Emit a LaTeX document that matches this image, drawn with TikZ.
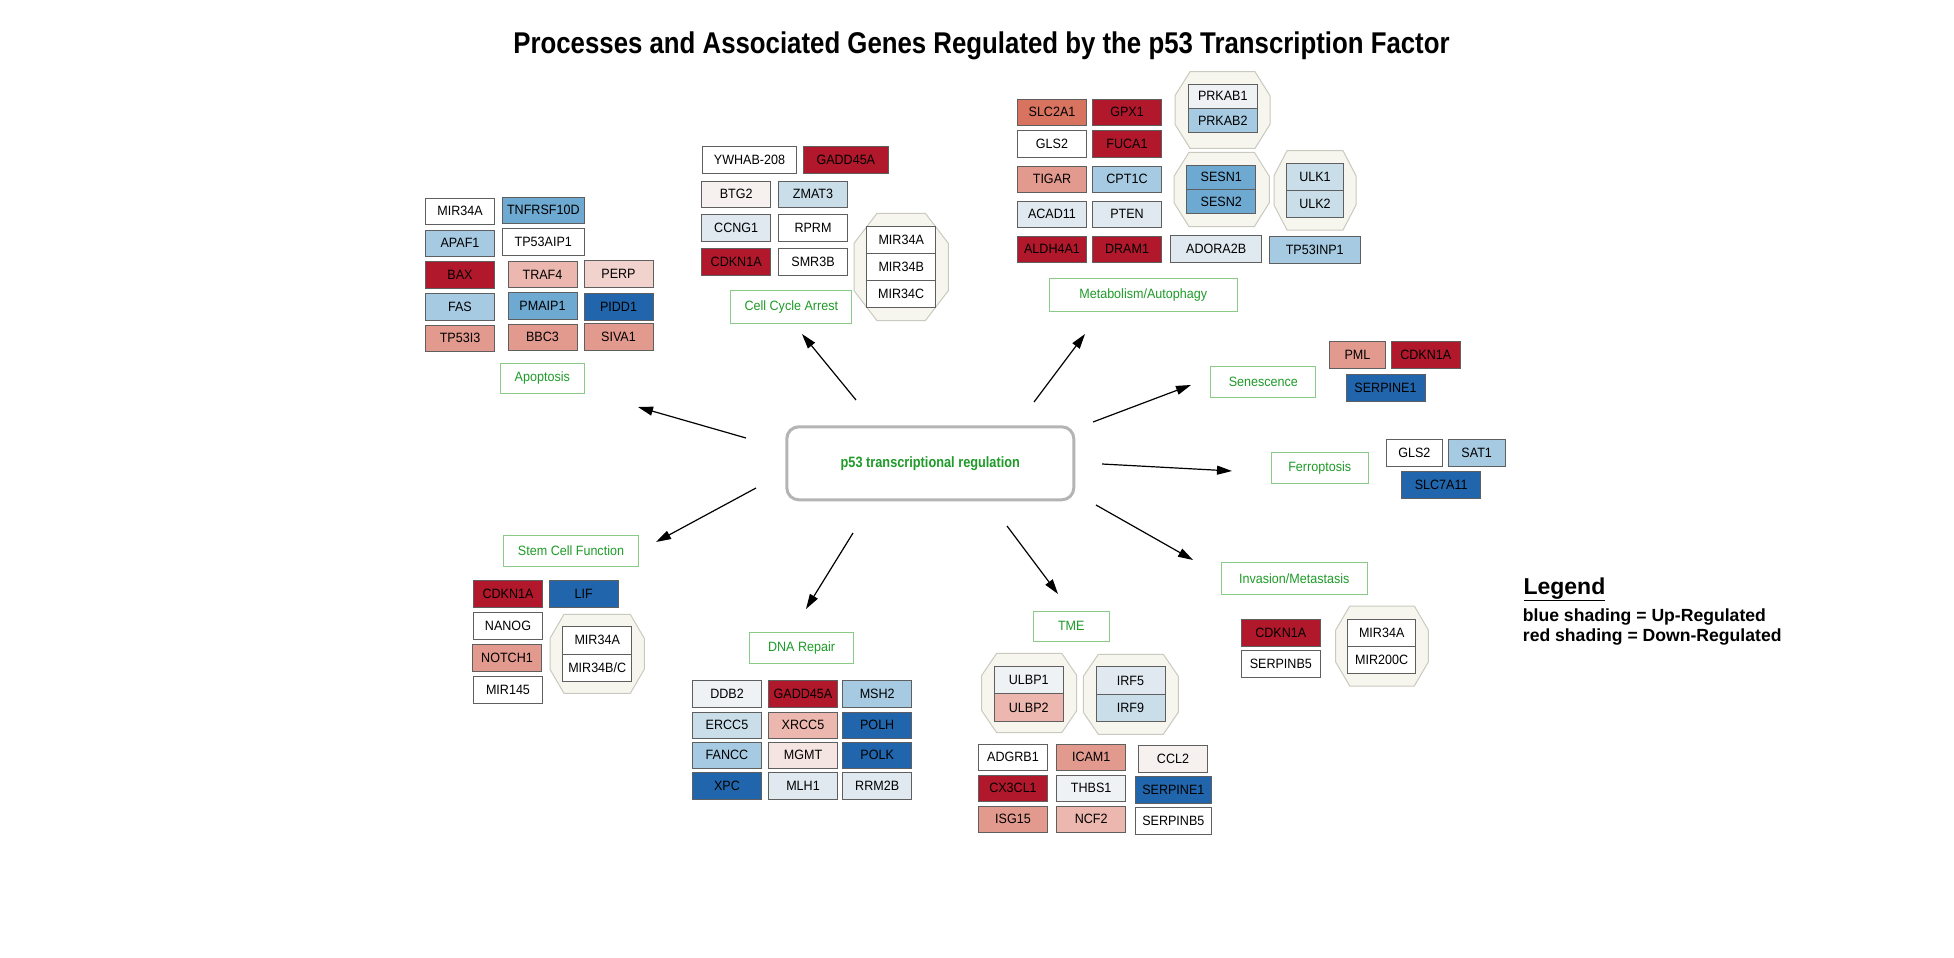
\documentclass[tikz,border=0pt]{standalone}
\usepackage{fontspec}
\setmainfont{Liberation Sans}
\newfontfamily\genefam{Liberation Sans}[FakeStretch=0.93]
\newfontfamily\narrowfam{Liberation Sans}[FakeStretch=0.85]
\newfontfamily\titlefam{Liberation Sans}[FakeStretch=0.86]
\usetikzlibrary{arrows.meta}
\newcommand{\mygenefont}{\genefam\fontsize{13.5pt}{16pt}\selectfont}
\definecolor{rA}{HTML}{B2182B}
\definecolor{rB}{HTML}{D8735F}
\definecolor{rC}{HTML}{E29A8E}
\definecolor{rD}{HTML}{EBB7AF}
\definecolor{rE}{HTML}{F1D2CD}
\definecolor{rF}{HTML}{F4E4E2}
\definecolor{rG}{HTML}{F6F0EF}
\definecolor{nW}{HTML}{FFFFFF}
\definecolor{bA}{HTML}{EEF2F4}
\definecolor{bB}{HTML}{E0E9F0}
\definecolor{bC}{HTML}{CADEEA}
\definecolor{bD}{HTML}{A6CAE2}
\definecolor{bE}{HTML}{6EA9D2}
\definecolor{bF}{HTML}{2166AC}
\definecolor{genebd}{HTML}{5F5F5F}
\definecolor{lblgreen}{HTML}{1E9B28}
\definecolor{lblbd}{HTML}{8ACB8A}
\definecolor{octfill}{HTML}{F6F6EE}
\definecolor{octbd}{HTML}{C9C9C0}
\definecolor{centbd}{HTML}{B4B4B4}
\tikzset{
 gene/.style={rectangle, draw=genebd, line width=0.9pt, minimum width=69pt, minimum height=26.7pt, inner sep=0pt, font=\mygenefont, text=black},
 proc/.style={rectangle, draw=lblbd, line width=1pt, fill=white, inner sep=0pt, font=\mygenefont, text=lblgreen},
 hub/.style={rectangle, rounded corners=12pt, draw=centbd, line width=3pt, fill=white, minimum width=287pt, minimum height=73pt, font={\narrowfam\bfseries\fontsize{15pt}{18pt}\selectfont}, text=lblgreen},
 octa/.style={draw=octbd, fill=octfill, line width=1pt},
 conn/.style={-{Triangle[length=15pt,width=9pt]}, line width=1.2pt, black},
 legline/.style={anchor=base west, inner sep=0pt, font={\bfseries\fontsize{17.6pt}{20pt}\selectfont}},
}
\newcommand{\octpath}[6]{\draw[octa] (#1+#5,#2) -- (#3-#5,#2) -- (#3,#2+#6) -- (#3,#4-#6) -- (#3-#5,#4) -- (#1+#5,#4) -- (#1,#4-#6) -- (#1,#2+#6) -- cycle;}
\begin{document}
\begin{tikzpicture}[x=1pt,y=-1pt]
\useasboundingbox[fill=white] (0,0) rectangle (1954,958);

% title
\node[anchor=base, font={\titlefam\bfseries\fontsize{30pt}{34pt}\selectfont}] (title) at (981.5,53) {Processes and Associated Genes Regulated by the p53 Transcription Factor};

% hub
\node[hub] (hub) at (930.3,463.3) {p53 transcriptional regulation};

% ---------- Apoptosis
\node[gene, fill=nW] (apMIR) at (460,211.3) {MIR34A};
\node[gene, fill=bE, minimum width=82pt] (apTNF) at (543.3,210.3) {TNFRSF10D};
\node[gene, fill=bD] (apAPAF) at (460,243.3) {APAF1};
\node[gene, fill=nW, minimum width=82pt] (apTPA) at (543.3,241.7) {TP53AIP1};
\node[gene, fill=rA] (apBAX) at (460,275) {BAX};
\node[gene, fill=rD] (apTRAF) at (542.5,274.5) {TRAF4};
\node[gene, fill=rE] (apPERP) at (618.5,273.7) {PERP};
\node[gene, fill=bD] (apFAS) at (460,306.7) {FAS};
\node[gene, fill=bE] (apPMA) at (542.5,306) {PMAIP1};
\node[gene, fill=bF] (apPIDD) at (618.5,306.7) {PIDD1};
\node[gene, fill=rC] (apTPI) at (460,338.3) {TP53I3};
\node[gene, fill=rC] (apBBC) at (542.5,337.3) {BBC3};
\node[gene, fill=rC] (apSIVA) at (618.5,336.7) {SIVA1};
\node[proc, minimum width=84pt, minimum height=30pt] (apop) at (542.3,378.3) {Apoptosis};

% ---------- Cell cycle arrest
\node[gene, fill=nW, minimum width=94.4pt] (ccY) at (749.5,160) {YWHAB-208};
\node[gene, fill=rA, minimum width=85pt] (ccG) at (845.8,160) {GADD45A};
\node[gene, fill=rG] (ccBTG) at (736.2,194.3) {BTG2};
\node[gene, fill=bC] (ccZ) at (813,194.3) {ZMAT3};
\node[gene, fill=bB] (ccCC) at (736.2,227.7) {CCNG1};
\node[gene, fill=nW] (ccR) at (813,227.7) {RPRM};
\node[gene, fill=rA] (ccCD) at (736.2,261.7) {CDKN1A};
\node[gene, fill=nW] (ccS) at (813,261.7) {SMR3B};
\octpath{854}{213.3}{948.3}{320.7}{23}{30}
\node[gene, fill=nW] (ccM1) at (901.2,240) {MIR34A};
\node[gene, fill=nW] (ccM2) at (901.2,267) {MIR34B};
\node[gene, fill=nW] (ccM3) at (901.2,294) {MIR34C};
\node[proc, minimum width=120.7pt, minimum height=33.3pt] (cca) at (791.3,307.3) {Cell Cycle Arrest};

% ---------- Metabolism / Autophagy
\node[gene, fill=rB] (mSLC) at (1052,112.3) {SLC2A1};
\node[gene, fill=rA] (mGPX) at (1127,112.3) {GPX1};
\node[gene, fill=nW] (mGLS) at (1052,144) {GLS2};
\node[gene, fill=rA] (mFUC) at (1127,144) {FUCA1};
\node[gene, fill=rC] (mTIG) at (1052,179.3) {TIGAR};
\node[gene, fill=bD] (mCPT) at (1127,179.3) {CPT1C};
\node[gene, fill=bB] (mACA) at (1052,214.3) {ACAD11};
\node[gene, fill=bB] (mPTE) at (1127,214.3) {PTEN};
\node[gene, fill=rA] (mALD) at (1052,249.3) {ALDH4A1};
\node[gene, fill=rA] (mDRA) at (1127,249.3) {DRAM1};
\octpath{1175}{71.7}{1270}{148.3}{15}{24}
\node[gene, fill=bA, minimum height=24pt] (mPR1) at (1222.8,96.3) {PRKAB1};
\node[gene, fill=bD, minimum height=24pt] (mPR2) at (1222.8,120.3) {PRKAB2};
\octpath{1174}{152.3}{1269.3}{226.7}{15}{24}
\node[gene, fill=bE, minimum height=24.3pt] (mSE1) at (1221.2,177.2) {SESN1};
\node[gene, fill=bE, minimum height=24.3pt] (mSE2) at (1221.2,201.4) {SESN2};
\octpath{1274}{150.7}{1356}{230}{13}{25}
\node[gene, fill=bC, minimum width=56.6pt, minimum height=27pt] (mUL1) at (1315,177) {ULK1};
\node[gene, fill=bC, minimum width=56.6pt, minimum height=27pt] (mUL2) at (1315,204) {ULK2};
\node[gene, fill=bB, minimum width=91pt] (mADO) at (1216.2,249.2) {ADORA2B};
\node[gene, fill=bD, minimum width=90.7pt] (mTPI) at (1314.7,250) {TP53INP1};
\node[proc, minimum width=188.3pt, minimum height=32.7pt] (meta) at (1143.2,294.7) {Metabolism/Autophagy};

% ---------- Senescence
\node[proc, minimum width=104.7pt, minimum height=31.3pt] (sen) at (1263.3,381.7) {Senescence};
\node[gene, fill=rC, minimum width=56.4pt] (sPML) at (1357.5,355) {PML};
\node[gene, fill=rA, minimum width=69.7pt] (sCDK) at (1425.8,355) {CDKN1A};
\node[gene, fill=bF, minimum width=79pt] (sSER) at (1385.5,387.7) {SERPINE1};

% ---------- Ferroptosis
\node[proc, minimum width=97.3pt, minimum height=31pt] (fer) at (1319.7,467.8) {Ferroptosis};
\node[gene, fill=nW, minimum width=56.7pt] (fGLS) at (1414.3,452.8) {GLS2};
\node[gene, fill=bD, minimum width=56.7pt] (fSAT) at (1476.7,452.8) {SAT1};
\node[gene, fill=bF, minimum width=79pt] (fSLC) at (1441.2,484.7) {SLC7A11};

% ---------- Invasion / Metastasis
\node[proc, minimum width=146.6pt, minimum height=32.3pt] (inv) at (1294.3,578.8) {Invasion/Metastasis};
\node[gene, fill=rA, minimum width=78.3pt] (iCDK) at (1280.8,632.7) {CDKN1A};
\node[gene, fill=nW, minimum width=78.3pt] (iSER) at (1280.8,664) {SERPINB5};
\octpath{1335.7}{606}{1428.3}{686}{14}{24}
\node[gene, fill=nW, minimum width=68pt, minimum height=27pt] (iM1) at (1381.7,632.7) {MIR34A};
\node[gene, fill=nW, minimum width=68pt, minimum height=27pt] (iM2) at (1381.7,659.7) {MIR200C};

% ---------- TME
\node[proc, minimum width=76pt, minimum height=30pt] (tme) at (1071.3,626.3) {TME};
\octpath{981.7}{653.3}{1076.7}{732.7}{15}{22}
\node[gene, fill=bA, minimum height=27.8pt] (tU1) at (1028.8,680) {ULBP1};
\node[gene, fill=rD, minimum height=27.8pt] (tU2) at (1028.8,707.8) {ULBP2};
\octpath{1083.3}{654.3}{1178.3}{734.3}{15}{22}
\node[gene, fill=bB, minimum height=27.5pt] (tI5) at (1130.5,680.5) {IRF5};
\node[gene, fill=bC, minimum height=27.5pt] (tI9) at (1130.5,708) {IRF9};
\node[gene, fill=nW] (tADG) at (1013,757.3) {ADGRB1};
\node[gene, fill=rC] (tICA) at (1091.2,757.3) {ICAM1};
\node[gene, fill=rG] (tCCL) at (1173,758.8) {CCL2};
\node[gene, fill=rA] (tCX3) at (1013,788.3) {CX3CL1};
\node[gene, fill=bA] (tTHB) at (1091.2,788.3) {THBS1};
\node[gene, fill=bF, minimum width=76.7pt] (tSE1) at (1173.3,790) {SERPINE1};
\node[gene, fill=rC] (tISG) at (1013,819.3) {ISG15};
\node[gene, fill=rD] (tNCF) at (1091.2,819.3) {NCF2};
\node[gene, fill=nW, minimum width=76.7pt] (tSB5) at (1173.3,820.8) {SERPINB5};

% ---------- DNA Repair
\node[proc, minimum width=104.4pt, minimum height=31pt] (dna) at (801.5,647.8) {DNA Repair};
\node[gene, fill=bA] (dDDB) at (727,693.7) {DDB2};
\node[gene, fill=rA] (dGAD) at (803,693.7) {GADD45A};
\node[gene, fill=bD] (dMSH) at (877.2,693.7) {MSH2};
\node[gene, fill=bC] (dERC) at (727,725.3) {ERCC5};
\node[gene, fill=rD] (dXRC) at (803,725.3) {XRCC5};
\node[gene, fill=bF] (dPOH) at (877.2,725.3) {POLH};
\node[gene, fill=bD] (dFAN) at (727,755.3) {FANCC};
\node[gene, fill=rF] (dMGM) at (803,755.3) {MGMT};
\node[gene, fill=bF] (dPOK) at (877.2,755.3) {POLK};
\node[gene, fill=bF] (dXPC) at (727,785.7) {XPC};
\node[gene, fill=bB] (dMLH) at (803,785.7) {MLH1};
\node[gene, fill=bB] (dRRM) at (877.2,785.7) {RRM2B};

% ---------- Stem Cell Function
\node[proc, minimum width=135.4pt, minimum height=30.7pt] (stem) at (571,550.7) {Stem Cell Function};
\node[gene, fill=rA] (scCDK) at (508,593.7) {CDKN1A};
\node[gene, fill=bF] (scLIF) at (583.7,593.7) {LIF};
\node[gene, fill=nW] (scNAN) at (508,625.7) {NANOG};
\node[gene, fill=rC] (scNOT) at (507,657.7) {NOTCH1};
\node[gene, fill=nW] (scMIR) at (508,689.7) {MIR145};
\octpath{550}{614.3}{644.3}{693.3}{14}{24}
\node[gene, fill=nW, minimum height=27.3pt] (scM1) at (597.2,640.3) {MIR34A};
\node[gene, fill=nW, minimum height=27.3pt] (scM2) at (597.2,667.6) {MIR34B/C};

% ---------- Arrows
\coordinate (a1s) at (746,438);  \coordinate (a1e) at (638,407);
\coordinate (a2s) at (856,400);  \coordinate (a2e) at (802,334);
\coordinate (a3s) at (1034,402); \coordinate (a3e) at (1085,334);
\coordinate (a4s) at (1093,422); \coordinate (a4e) at (1191,385);
\coordinate (a5s) at (1102,464); \coordinate (a5e) at (1232,471);
\coordinate (a6s) at (1096,505); \coordinate (a6e) at (1193,560);
\coordinate (a7s) at (1007,526); \coordinate (a7e) at (1058,594);
\coordinate (a8s) at (853,533);  \coordinate (a8e) at (806,609);
\coordinate (a9s) at (756,488);  \coordinate (a9e) at (656,542);
\draw[conn] (a1s) -- (a1e);
\draw[conn] (a2s) -- (a2e);
\draw[conn] (a3s) -- (a3e);
\draw[conn] (a4s) -- (a4e);
\draw[conn] (a5s) -- (a5e);
\draw[conn] (a6s) -- (a6e);
\draw[conn] (a7s) -- (a7e);
\draw[conn] (a8s) -- (a8e);
\draw[conn] (a9s) -- (a9e);

% ---------- Legend
\node[anchor=base west, inner sep=0pt, font={\bfseries\fontsize{23pt}{26pt}\selectfont}] (legt) at (1523.3,594.3) {\underline{Legend}};
\node[legline] (leg1) at (1522.7,621.7) {blue shading = Up-Regulated};
\node[legline] (leg2) at (1522.7,641.7) {red shading = Down-Regulated};
\end{tikzpicture}
\end{document}
